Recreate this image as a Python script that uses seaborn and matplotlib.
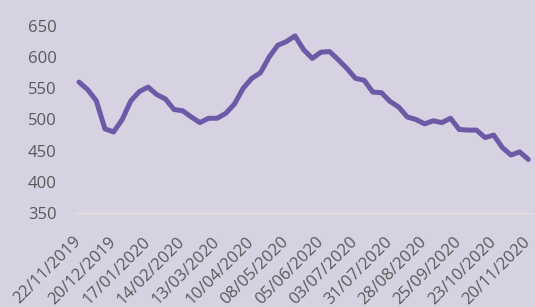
import matplotlib
matplotlib.use("Agg")
import matplotlib.pyplot as plt
import seaborn as sns
import pandas as pd
import numpy as np

weeks = list(range(53))
values = [560, 548, 530, 485, 480, 500, 530, 545, 552, 540,
          533, 516, 514, 504, 495, 502, 502, 510, 525, 550,
          566, 575, 600, 619, 625, 634, 612, 598, 608, 609,
          596, 582, 566, 563, 544, 543, 529, 520, 504, 500,
          493, 498, 495, 502, 484, 483, 483, 471, 475, 455,
          443, 448, 436]
tick_labels = ["22/11/2019", "20/12/2019", "17/01/2020", "14/02/2020",
               "13/03/2020", "10/04/2020", "08/05/2020", "05/06/2020",
               "03/07/2020", "31/07/2020", "28/08/2020", "25/09/2020",
               "23/10/2020", "20/11/2020"]
y_ticks = [350, 400, 450, 500, 550, 600, 650]

bg = "#D6D2E2"
sns.set_theme(style="white")
plt.rcParams["font.family"] = ["Open Sans", "DejaVu Sans"]

df = pd.DataFrame({"week": weeks, "value": values})

fig = plt.figure(figsize=(5.35, 3.07), dpi=100, facecolor=bg)
ax = fig.add_axes([0.1396, 0.3062, 0.8559, 0.6091])
ax.set_facecolor(bg)

sns.lineplot(data=df, x="week", y="value", ax=ax, color="#6E59A7",
             linewidth=3.6, solid_capstyle="round", solid_joinstyle="round",
             clip_on=False)

ax.set_xlim(-0.5, 52.5)
ax.set_ylim(350, 650)
ax.set_yticks(y_ticks)
ax.set_yticklabels([str(v) for v in y_ticks], color="#595959", fontsize=12)
ax.set_xticks(weeks[::4])
ax.set_xticklabels(tick_labels, rotation=45, ha="right", va="center",
                   rotation_mode="anchor", color="#595959", fontsize=12)
ax.tick_params(axis="both", length=0)
ax.tick_params(axis="x", pad=19)
ax.tick_params(axis="y", pad=13)
ax.set_xlabel("")
ax.set_ylabel("")
for s in ["top", "right", "left"]:
    ax.spines[s].set_visible(False)
ax.spines["bottom"].set_color("#E4E2D4")
ax.spines["bottom"].set_linewidth(1.0)

fig.savefig("out.png", dpi=100, facecolor=bg)
